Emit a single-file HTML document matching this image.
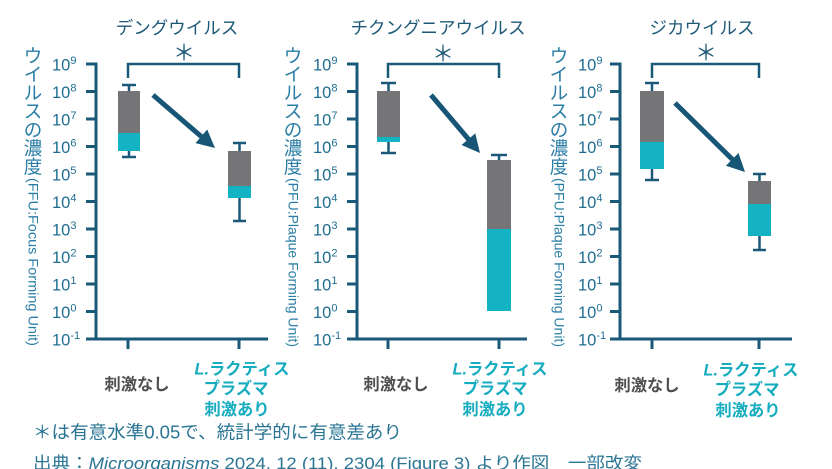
<!DOCTYPE html>
<html><head><meta charset="utf-8"><style>
html,body{margin:0;padding:0;background:#fff;}
svg{display:block;}
text{font-family:"Liberation Sans","Noto Sans CJK JP",sans-serif;}
.jp{font-family:"Noto Sans CJK JP","Liberation Sans",sans-serif;}
</style></head><body>
<svg width="832" height="469" viewBox="0 0 832 469" xmlns="http://www.w3.org/2000/svg">
<rect width="832" height="469" fill="#fff"/>

<!-- Titles -->
<g class="jp" fill="#1e5a78" font-size="17.5" text-anchor="middle" dominant-baseline="central">
<text x="177" y="28">デングウイルス</text>
<text x="438" y="28">チクングニアウイルス</text>
<text x="702" y="28">ジカウイルス</text>
</g>

<!-- Asterisks -->
<g class="jp" fill="#1e5a78" font-size="22" text-anchor="middle" dominant-baseline="central">
<text x="184" y="53">＊</text>
<text x="443" y="54">＊</text>
<text x="706" y="53">＊</text>
</g>

<!-- Brackets -->
<path d="M128 78V64H239V78 M388 78V64H499V78 M652 78V64H759V78" stroke="#1a5a78" stroke-width="2.5" fill="none"/>

<!-- Y axis labels (vertical) -->
<g fill="#2a7ea6">
<g class="jp" font-size="18.5" text-anchor="middle" dominant-baseline="central">
<text x="33" y="56">ウ</text><text x="33" y="74.5">イ</text><text x="33" y="93">ル</text><text x="33" y="111.5">ス</text><text x="33" y="130">の</text><text x="33" y="148.5">濃</text><text x="33" y="167">度</text>
<text x="293" y="56">ウ</text><text x="293" y="74.5">イ</text><text x="293" y="93">ル</text><text x="293" y="111.5">ス</text><text x="293" y="130">の</text><text x="293" y="148.5">濃</text><text x="293" y="167">度</text>
<text x="559" y="56">ウ</text><text x="559" y="74.5">イ</text><text x="559" y="93">ル</text><text x="559" y="111.5">ス</text><text x="559" y="130">の</text><text x="559" y="148.5">濃</text><text x="559" y="167">度</text>
</g>
<text font-size="14" transform="translate(28.5,178) rotate(90)" textLength="168" lengthAdjust="spacingAndGlyphs">(FFU:Focus Forming Unit)</text>
<text font-size="14" transform="translate(288.5,178) rotate(90)" textLength="169" lengthAdjust="spacingAndGlyphs">(PFU:Plaque Forming Unit)</text>
<text font-size="14" transform="translate(554.5,178) rotate(90)" textLength="169" lengthAdjust="spacingAndGlyphs">(PFU:Plaque Forming Unit)</text>
</g>

<!-- Axes -->
<g stroke="#1a5a78" stroke-width="3" fill="none">
<path d="M96 62.5V340.5 M94.5 339H268 M86 64H96 M86 91.5H96 M86 119H96 M86 146.5H96 M86 174H96 M86 201.5H96 M86 229H96 M86 256.5H96 M86 284H96 M86 311.5H96 M86 339H96 M128 339V349 M239 339V349"/>
<path d="M357 62.5V340.5 M355.5 339H527 M347 64H357 M347 91.5H357 M347 119H357 M347 146.5H357 M347 174H357 M347 201.5H357 M347 229H357 M347 256.5H357 M347 284H357 M347 311.5H357 M347 339H357 M388 339V349 M499 339V349"/>
<path d="M620 62.5V340.5 M618.5 339H792 M610 64H620 M610 91.5H620 M610 119H620 M610 146.5H620 M610 174H620 M610 201.5H620 M610 229H620 M610 256.5H620 M610 284H620 M610 311.5H620 M610 339H620 M652 339V349 M759 339V349"/>
</g>

<!-- Tick labels -->
<g fill="#1f6d92" font-size="16.5">
<text x="52" y="70.5">10<tspan font-size="11" dy="-6.5">9</tspan></text>
<text x="52" y="98">10<tspan font-size="11" dy="-6.5">8</tspan></text>
<text x="52" y="125.5">10<tspan font-size="11" dy="-6.5">7</tspan></text>
<text x="52" y="153">10<tspan font-size="11" dy="-6.5">6</tspan></text>
<text x="52" y="180.5">10<tspan font-size="11" dy="-6.5">5</tspan></text>
<text x="52" y="208">10<tspan font-size="11" dy="-6.5">4</tspan></text>
<text x="52" y="235.5">10<tspan font-size="11" dy="-6.5">3</tspan></text>
<text x="52" y="263">10<tspan font-size="11" dy="-6.5">2</tspan></text>
<text x="52" y="290.5">10<tspan font-size="11" dy="-6.5">1</tspan></text>
<text x="52" y="318">10<tspan font-size="11" dy="-6.5">0</tspan></text>
<text x="52" y="345.5">10<tspan font-size="11" dy="-6.5">-1</tspan></text>

<text x="313" y="70.5">10<tspan font-size="11" dy="-6.5">9</tspan></text>
<text x="313" y="98">10<tspan font-size="11" dy="-6.5">8</tspan></text>
<text x="313" y="125.5">10<tspan font-size="11" dy="-6.5">7</tspan></text>
<text x="313" y="153">10<tspan font-size="11" dy="-6.5">6</tspan></text>
<text x="313" y="180.5">10<tspan font-size="11" dy="-6.5">5</tspan></text>
<text x="313" y="208">10<tspan font-size="11" dy="-6.5">4</tspan></text>
<text x="313" y="235.5">10<tspan font-size="11" dy="-6.5">3</tspan></text>
<text x="313" y="263">10<tspan font-size="11" dy="-6.5">2</tspan></text>
<text x="313" y="290.5">10<tspan font-size="11" dy="-6.5">1</tspan></text>
<text x="313" y="318">10<tspan font-size="11" dy="-6.5">0</tspan></text>
<text x="313" y="345.5">10<tspan font-size="11" dy="-6.5">-1</tspan></text>

<text x="578" y="70.5">10<tspan font-size="11" dy="-6.5">9</tspan></text>
<text x="578" y="98">10<tspan font-size="11" dy="-6.5">8</tspan></text>
<text x="578" y="125.5">10<tspan font-size="11" dy="-6.5">7</tspan></text>
<text x="578" y="153">10<tspan font-size="11" dy="-6.5">6</tspan></text>
<text x="578" y="180.5">10<tspan font-size="11" dy="-6.5">5</tspan></text>
<text x="578" y="208">10<tspan font-size="11" dy="-6.5">4</tspan></text>
<text x="578" y="235.5">10<tspan font-size="11" dy="-6.5">3</tspan></text>
<text x="578" y="263">10<tspan font-size="11" dy="-6.5">2</tspan></text>
<text x="578" y="290.5">10<tspan font-size="11" dy="-6.5">1</tspan></text>
<text x="578" y="318">10<tspan font-size="11" dy="-6.5">0</tspan></text>
<text x="578" y="345.5">10<tspan font-size="11" dy="-6.5">-1</tspan></text>
</g>

<!-- Whiskers -->
<path d="M129 85V157 M122 85H136 M122 157H136
M239.5 143V221 M233 143H246 M233 221H246
M388.5 83V153 M381 83H396 M381 153H396
M499 155V160 M491 155H507
M652 83V180 M645 83H659 M645 180H659
M759.5 174V250 M753 174H766 M753 250H766" stroke="#1a5a78" stroke-width="2.5" fill="none"/>

<!-- Boxes -->
<g fill="#757578">
<rect x="118" y="91" width="22" height="42"/>
<rect x="228" y="151" width="23" height="35"/>
<rect x="377" y="91" width="23" height="46"/>
<rect x="487" y="160" width="24" height="69"/>
<rect x="640" y="91" width="24" height="51"/>
<rect x="748" y="181" width="23" height="23"/>
</g>
<g fill="#14b3c3">
<rect x="118" y="133" width="22" height="18"/>
<rect x="228" y="186" width="23" height="12"/>
<rect x="377" y="137" width="23" height="5"/>
<rect x="487" y="229" width="24" height="82"/>
<rect x="640" y="142" width="24" height="27"/>
<rect x="748" y="204" width="23" height="32"/>
</g>

<!-- Arrows -->
<g stroke="#175677" stroke-width="5" fill="none" stroke-linecap="butt">
<path d="M153 95L203 138"/>
<path d="M431 95L470 141"/>
<path d="M675 103L734 161"/>
</g>
<g fill="#175677">
<polygon points="215,148 195.5,143.1 207.2,129.5"/>
<polygon points="480,153 461.5,145 475.3,133.4"/>
<polygon points="745,172 725.9,165.8 738.5,153"/>
</g>

<!-- Category labels -->
<g class="jp" font-size="16.3" font-weight="bold" text-anchor="middle" dominant-baseline="central">
<g fill="#4f4f4f">
<text x="137" y="385">刺激なし</text>
<text x="396" y="385">刺激なし</text>
<text x="647" y="386">刺激なし</text>
</g>
<g fill="#16acbf">
<text x="242" y="369.5"><tspan font-style="italic" font-family="Liberation Sans, sans-serif">L.</tspan>ラクティス</text>
<text x="236" y="389">プラズマ</text>
<text x="237" y="410">刺激あり</text>
<text x="500" y="369.5"><tspan font-style="italic" font-family="Liberation Sans, sans-serif">L.</tspan>ラクティス</text>
<text x="495" y="389">プラズマ</text>
<text x="495" y="410">刺激あり</text>
<text x="751" y="370.5"><tspan font-style="italic" font-family="Liberation Sans, sans-serif">L.</tspan>ラクティス</text>
<text x="747" y="390">プラズマ</text>
<text x="748" y="411">刺激あり</text>
</g>
</g>

<!-- Footer -->
<g fill="#2a7594">
<text x="33" y="438.5" font-size="18" textLength="369" lengthAdjust="spacingAndGlyphs">＊は有意水準0.05で、統計学的に有意差あり</text>
<text x="33" y="469" font-size="17" textLength="609" lengthAdjust="spacingAndGlyphs">出典：<tspan font-style="italic">Microorganisms</tspan>  2024, 12 (11), 2304 (Figure 3) より作図　一部改変</text>
</g>
</svg>
</body></html>
